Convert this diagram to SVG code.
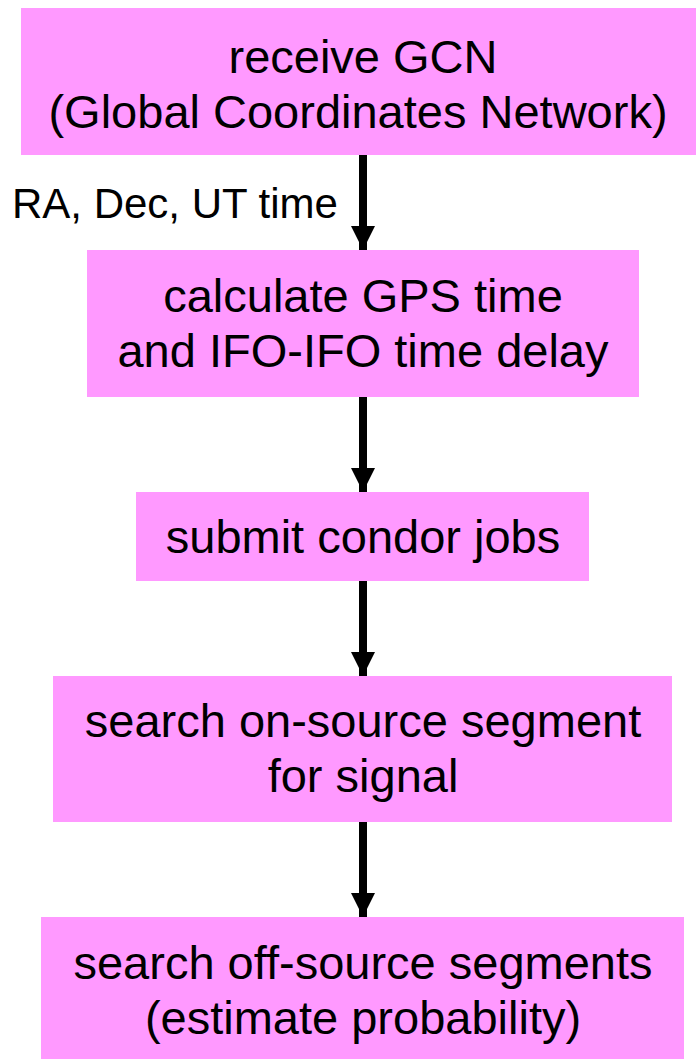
<svg xmlns="http://www.w3.org/2000/svg" width="696" height="1059" viewBox="0 0 696 1059">
  <style>
    .box { fill: #ff99ff; }
    .t { font-family: "Liberation Sans", Arial, sans-serif; font-size: 47px; fill: #000; text-anchor: middle; }
    .lbl { font-family: "Liberation Sans", Arial, sans-serif; font-size: 42px; fill: #000; }
    .edge { stroke: #000; stroke-width: 8; fill: none; }
  </style>
  <defs>
    <marker id="head" viewBox="0 0 24 24" refX="24" refY="12" markerWidth="24" markerHeight="24" markerUnits="userSpaceOnUse" orient="auto">
      <path d="M0,0 L24,12 L0,24 Z" fill="#000"/>
    </marker>
  </defs>

  <rect width="696" height="1059" fill="#fff"/>

  <g id="receive-gcn">
    <rect class="box" x="21" y="8" width="675" height="147"/>
    <text class="t" x="363" y="73">receive GCN</text>
    <text class="t" x="358" y="128">(Global Coordinates Network)</text>
  </g>

  <g id="calculate-gps">
    <rect class="box" x="87" y="250" width="552" height="147"/>
    <text class="t" x="363" y="312">calculate GPS time</text>
    <text class="t" x="363" y="367">and IFO-IFO time delay</text>
  </g>

  <g id="submit-condor">
    <rect class="box" x="136" y="492" width="453" height="89"/>
    <text class="t" x="363" y="553">submit condor jobs</text>
  </g>

  <g id="search-on-source">
    <rect class="box" x="53" y="676" width="619" height="146"/>
    <text class="t" x="363" y="737">search on-source segment</text>
    <text class="t" x="363" y="792">for signal</text>
  </g>

  <g id="search-off-source">
    <rect class="box" x="41" y="917" width="643" height="142"/>
    <text class="t" x="363" y="979">search off-source segments</text>
    <text class="t" x="363" y="1034">(estimate probability)</text>
  </g>

  <g id="connectors">
    <line class="edge" x1="363" y1="155" x2="363" y2="250" marker-end="url(#head)"/>
    <line class="edge" x1="363" y1="397" x2="363" y2="492" marker-end="url(#head)"/>
    <line class="edge" x1="363" y1="581" x2="363" y2="676" marker-end="url(#head)"/>
    <line class="edge" x1="363" y1="822" x2="363" y2="917" marker-end="url(#head)"/>
    <text class="lbl" x="12" y="218">RA, Dec, UT time</text>
  </g>
</svg>
